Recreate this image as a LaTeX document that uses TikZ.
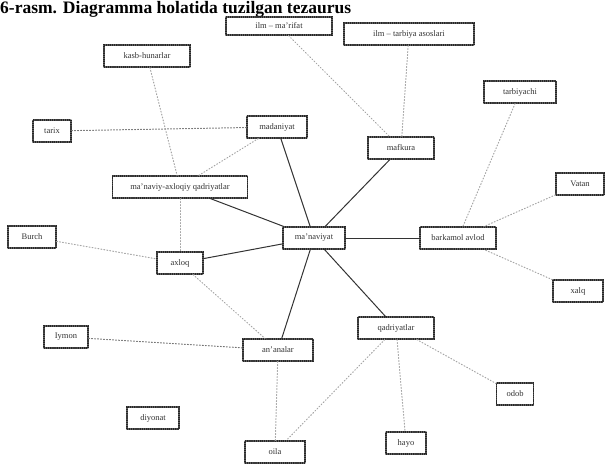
\documentclass[tikz,border=0pt]{standalone}
\usepackage{fontspec}
\setmainfont{Liberation Serif}
\begin{document}
\begin{tikzpicture}[x=1pt,y=-1pt,
  term/.style={draw=black!85, densely dotted, line width=1.1pt, inner sep=2pt,
    minimum height=22pt, font=\fontsize{8.5}{9}\selectfont, text=black!80},
  strong/.style={draw=black!80, line width=1pt},
  faint/.style={draw=black!35, dotted, line width=1pt},
  line cap=round]
\useasboundingbox (0,0) rectangle (613,464);
\node[anchor=base west, font=\bfseries\fontsize{17.5}{19}\selectfont, inner sep=0pt] (title) at (0,13.5) {6-rasm. Diagramma holatida tuzilgan tezaurus};

\node[term, minimum width=106pt, minimum height=18pt] (n1) at (279,26) {ilm -- ma'rifat};
\node[term, minimum width=130pt] (n2) at (409,34) {ilm -- tarbiya asoslari};
\node[term, minimum width=86pt] (n3) at (147,56) {kasb-hunarlar};
\node[term, minimum width=72pt] (n4) at (520,92) {tarbiyachi};
\node[term, minimum width=38pt] (n5) at (52,131) {tarix};
\node[term, minimum width=60pt] (n6) at (277,127) {madaniyat};
\node[term, minimum width=66pt] (n7) at (401,148) {mafkura};
\node[term, minimum width=135pt] (n8) at (180,187) {ma'naviy-axloqiy qadriyatlar};
\node[term, minimum width=48pt] (n9) at (580,184) {Vatan};
\node[term, minimum width=48pt] (n10) at (32,237) {Burch};
\node[term, minimum width=62pt] (n11) at (314,238) {ma'naviyat};
\node[term, minimum width=76pt] (n12) at (458,238) {barkamol avlod};
\node[term, minimum width=46pt] (n13) at (180,263) {axloq};
\node[term, minimum width=50pt] (n14) at (578,291) {xalq};
\node[term, minimum width=76pt] (n15) at (396,328) {qadriyatlar};
\node[term, minimum width=44pt] (n16) at (66,337) {Iymon};
\node[term, minimum width=70pt] (n17) at (278,350) {an'analar};
\node[term, minimum width=37pt] (n18) at (515,394) {odob};
\node[term, minimum width=52pt] (n19) at (153,418) {diyonat};
\node[term, minimum width=40pt] (n20) at (406,443) {hayo};
\node[term, minimum width=60pt] (n21) at (275,452) {oila};

% strong connectors
\foreach \t in {n6,n7,n8,n12,n13,n17,n15}
  \draw[strong] (n11) -- (\t);

% faint dotted connectors
\draw[faint, draw=black!55] (n5) -- (n6);
\draw[faint, draw=black!55] (n16) -- (n17);
\draw[faint] (n3) -- (n8);
\draw[faint] (n1) -- (n7);
\draw[faint] (n2) -- (n7);
\draw[faint] (n4) -- (n12);
\draw[faint] (n9) -- (n12);
\draw[faint] (n14) -- (n12);
\draw[faint] (n8) -- (n13);
\draw[faint] (n10) -- (n13);
\draw[faint] (n15) -- (n18);
\draw[faint] (n15) -- (n20);
\draw[faint] (n15) -- (n21);
\draw[faint] (n17) -- (n21);
\draw[faint] (n13) -- (n17);
\draw[faint] (n6) -- (n8);
\end{tikzpicture}
\end{document}
